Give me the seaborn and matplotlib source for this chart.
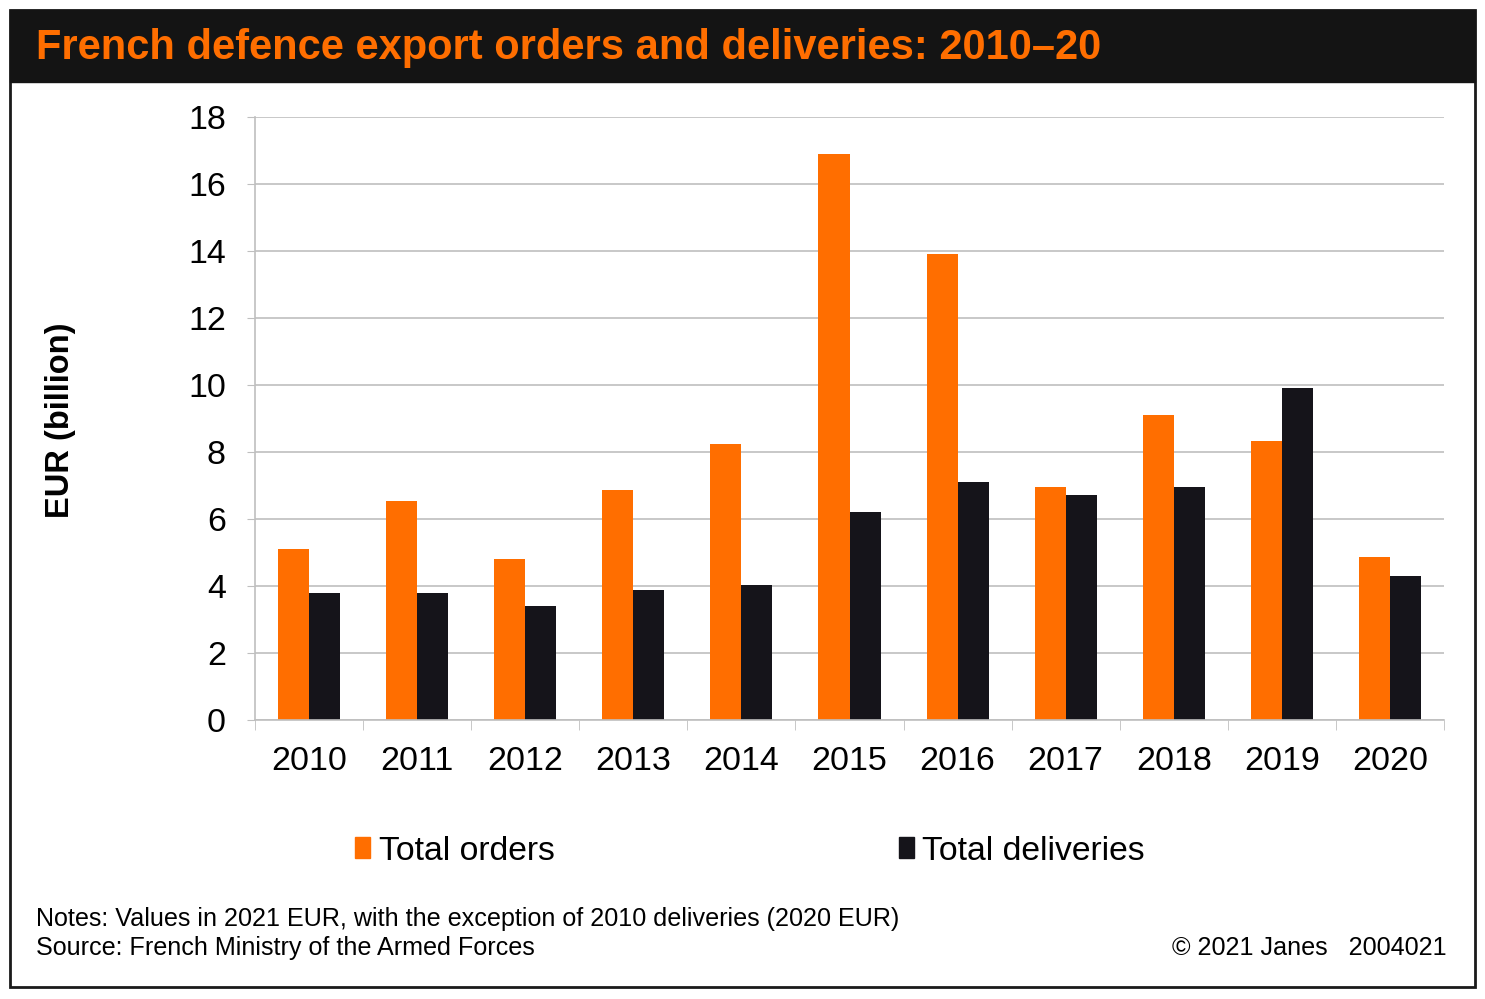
import matplotlib
matplotlib.use("Agg")
import matplotlib.pyplot as plt
import matplotlib.patches as mpatches
import pandas as pd
import seaborn as sns

years = ["2010", "2011", "2012", "2013", "2014", "2015", "2016", "2017", "2018", "2019", "2020"]
orders = [5.10, 6.54, 4.81, 6.87, 8.24, 16.90, 13.91, 6.96, 9.10, 8.33, 4.87]
deliveries = [3.79, 3.79, 3.40, 3.88, 4.03, 6.21, 7.10, 6.72, 6.96, 9.91, 4.30]
series = ["Total orders", "Total deliveries"]
colours = ["#FF6E00", "#15141A"]

df = pd.DataFrame({
    "Year": years * 2,
    "Value": orders + deliveries,
    "Series": [series[0]] * len(years) + [series[1]] * len(years),
})

sns.set_style("white")
plt.rcParams["font.family"] = ["Liberation Sans", "DejaVu Sans"]
plt.rcParams["text.color"] = "black"
plt.rcParams["xtick.labelcolor"] = "black"
plt.rcParams["ytick.labelcolor"] = "black"

fig = plt.figure(figsize=(14.85, 9.99), dpi=100)

# outer frame and title bar
fig.patches.append(mpatches.Rectangle((10 / 1485, 1 - 987 / 999), 1465 / 1485, 977 / 999,
                                      transform=fig.transFigure, fill=False,
                                      edgecolor="#1a1a1a", linewidth=2))
fig.patches.append(mpatches.Rectangle((10 / 1485, 1 - 82 / 999), 1465 / 1485, 72 / 999,
                                      transform=fig.transFigure, facecolor="#141414",
                                      edgecolor="#141414"))
fig.text(36 / 1485, 1 - 48 / 999, "French defence export orders and deliveries: 2010\u201320",
         color="#FF6E00", fontsize=30, fontweight="bold", va="center", ha="left")

ax = fig.add_axes([255 / 1485, 1 - 720 / 999, 1189 / 1485, 603 / 999])
sns.barplot(data=df, x="Year", y="Value", hue="Series", hue_order=series,
            palette=colours, width=0.574, saturation=1, linewidth=0,
            ax=ax, legend=False)

ax.set_ylim(0, 18)
ax.set_yticks(range(0, 19, 2))
ax.set_xlim(-0.5, len(years) - 0.5)
ax.yaxis.grid(True, color="#BFBFBF", linewidth=1.2)
ax.set_axisbelow(True)
ax.set_xlabel("")
ax.set_ylabel("")
for s in ["top", "right"]:
    ax.spines[s].set_visible(False)
for s in ["left", "bottom"]:
    ax.spines[s].set_color("#BFBFBF")
    ax.spines[s].set_linewidth(1.2)
ax.tick_params(axis="y", labelsize=24.5, length=6, color="#BFBFBF", pad=15, left=True)
ax.tick_params(axis="x", labelsize=24.5, length=0, pad=19)
ax.set_xticks([i + 0.5 for i in range(-1, len(years))], minor=True)
ax.tick_params(axis="x", which="minor", length=7, color="#BFBFBF", bottom=True)

fig.text(60 / 1485, 1 - 420 / 999, "EUR (billion)", rotation=90, fontsize=23.5,
         fontweight="bold", va="center", ha="center")

handles = [mpatches.Patch(color=c) for c in colours]
fig.legend(handles, series, loc="center", bbox_to_anchor=(750 / 1485, 1 - 851 / 999),
           ncol=2, frameon=False, fontsize=24.3, handlelength=0.45, handleheight=0.6,
           handletextpad=0.25, columnspacing=10.2)

fig.text(36 / 1485, 1 - 919 / 999,
         "Notes: Values in 2021 EUR, with the exception of 2010 deliveries (2020 EUR)",
         fontsize=18.1, va="center", ha="left")
fig.text(36 / 1485, 1 - 948 / 999, "Source: French Ministry of the Armed Forces",
         fontsize=18.1, va="center", ha="left")
fig.text(1447 / 1485, 1 - 948 / 999, "\u00a9 2021 Janes   2004021",
         fontsize=18.1, va="center", ha="right")

fig.savefig("out.png", dpi=100)
